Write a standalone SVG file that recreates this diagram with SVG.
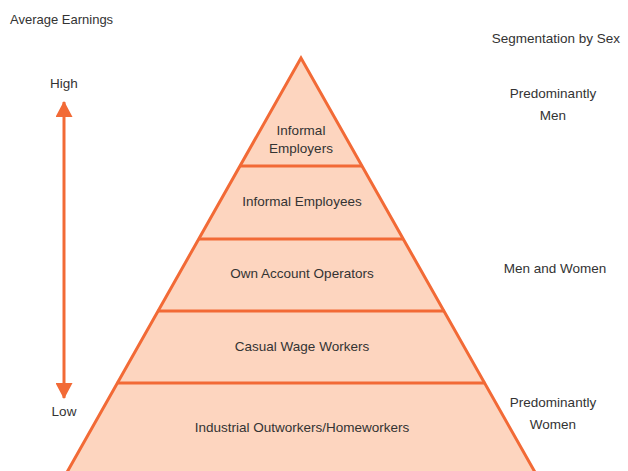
<svg xmlns="http://www.w3.org/2000/svg" width="628" height="471" viewBox="0 0 628 471">
<style>
text{font-family:"Liberation Sans",Arial,sans-serif;font-size:13.5px;fill:#333}
.c{text-anchor:middle}
.tier{fill:#fdd5bf;stroke:#f26a36;stroke-width:3}
.div{stroke:#f26a36;stroke-width:3;fill:none}
</style>
<defs>
<marker id="ah" viewBox="0 0 16 17" refX="15" refY="8.5" markerWidth="16" markerHeight="17" markerUnits="userSpaceOnUse" orient="auto">
<path d="M0,0 L16,8.5 L0,17 Z" fill="#f26a36"/>
</marker>
</defs>
<rect width="628" height="471" fill="#fff"/>
<text x="10" y="24" style="font-size:13px">Average Earnings</text>
<text x="620" y="43" text-anchor="end">Segmentation by Sex</text>
<g id="pyramid">
<polygon class="tier" points="301,58 66,474 536,474"/>
</g>
<g id="connectors">
<line class="div" x1="239.8" y1="166" x2="362.2" y2="166"/>
<line class="div" x1="198.4" y1="239" x2="403.6" y2="239"/>
<line class="div" x1="157.6" y1="311" x2="444.4" y2="311"/>
<line class="div" x1="116.8" y1="383" x2="485.2" y2="383"/>
<line x1="64" y1="250" x2="64" y2="102" stroke="#f26a36" stroke-width="3" marker-end="url(#ah)"/>
<line x1="64" y1="250" x2="64" y2="398" stroke="#f26a36" stroke-width="3" marker-end="url(#ah)"/>
</g>
<g id="tier-employers"><text class="c" x="301" y="135">Informal</text><text class="c" x="301" y="153">Employers</text></g>
<g id="tier-employees"><text class="c" x="302" y="206">Informal Employees</text></g>
<g id="tier-own"><text class="c" x="302" y="278">Own Account Operators</text></g>
<g id="tier-casual"><text class="c" x="302" y="351">Casual Wage Workers</text></g>
<g id="tier-industrial"><text class="c" x="302" y="432">Industrial Outworkers/Homeworkers</text></g>
<g id="label-high"><text class="c" x="64" y="88">High</text></g>
<g id="label-low"><text class="c" x="64" y="416">Low</text></g>
<g id="seg-men"><text class="c" x="553" y="98">Predominantly</text><text class="c" x="553" y="120">Men</text></g>
<g id="seg-both"><text class="c" x="555" y="273">Men and Women</text></g>
<g id="seg-women"><text class="c" x="553" y="407">Predominantly</text><text class="c" x="553" y="429">Women</text></g>
</svg>
